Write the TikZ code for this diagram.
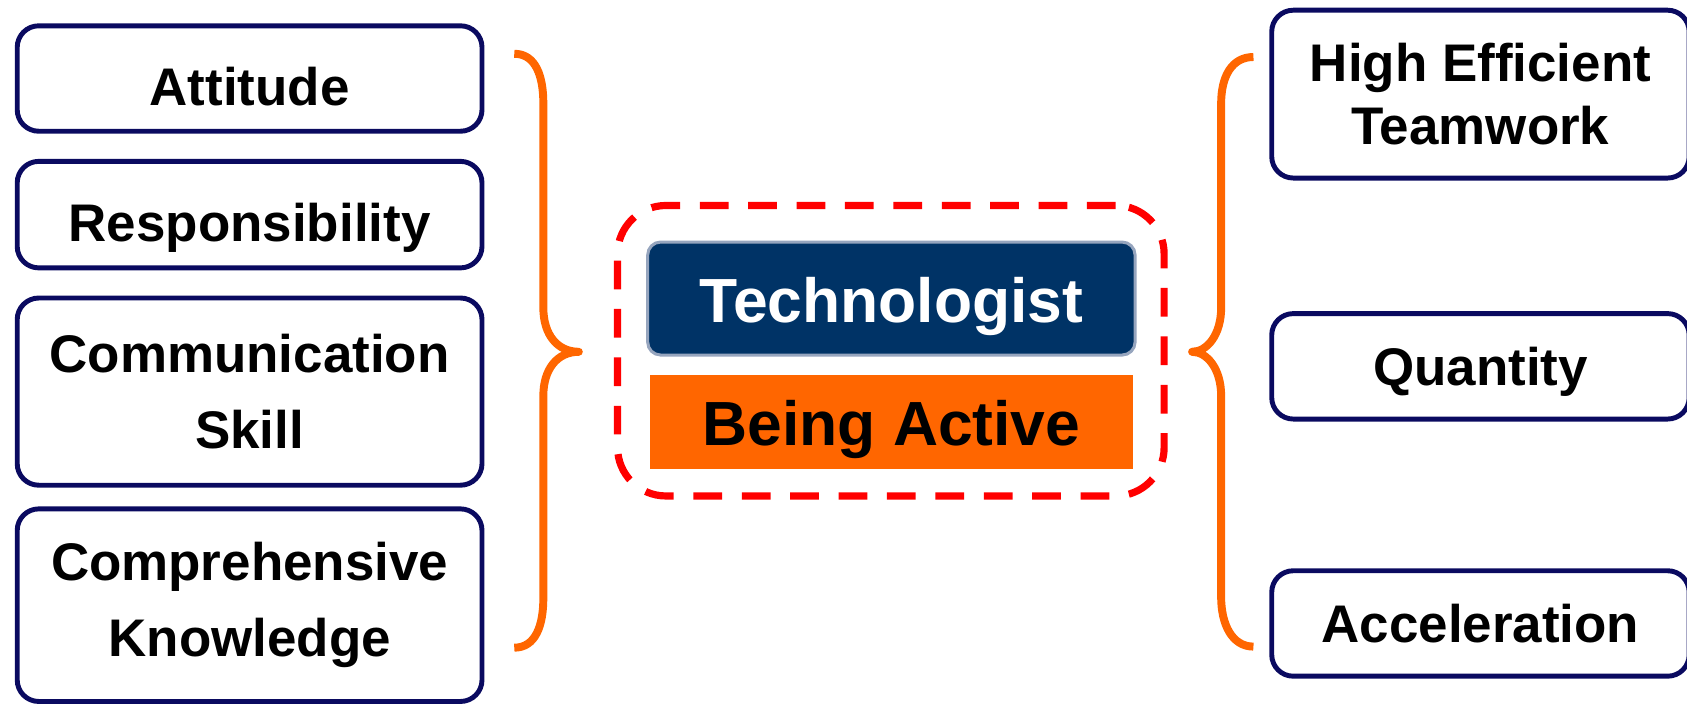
\documentclass[tikz,border=0pt]{standalone}
\usepackage{fontspec}
\setmainfont{Liberation Sans}
\usetikzlibrary{positioning}

\definecolor{boxline}{RGB}{10,10,96}
\definecolor{technoblue}{RGB}{0,51,102}
\definecolor{technoedge}{RGB}{150,165,190}
\definecolor{activeorange}{RGB}{255,102,0}

\begin{document}
\begin{tikzpicture}[
    item/.style={draw=boxline,line width=1.3pt,rounded corners=0.2cm,fill=white,align=center,inner sep=0pt},
    leftitem/.style={item,minimum width=4.32cm,font=\fontsize{14}{20}\selectfont\bfseries},
    rightitem/.style={item,minimum width=3.88cm,font=\fontsize{14}{16.5}\selectfont\bfseries},
    oneline/.style={text height=0.36cm,text depth=0pt},
    lowline/.style={text height=0.5cm,text depth=0pt},
    bigtext/.style={font=\fontsize{16.5}{20}\selectfont\bfseries,text height=0.44cm,text depth=0pt,inner sep=0pt},
    curly/.style={draw=activeorange,line width=2.1pt,line join=round}
  ]
  \useasboundingbox (0,0) rectangle (15.68,6.56);

  % left column
  \node (attitude) [leftitem,lowline,minimum height=0.98cm] at (2.32,5.83) {Attitude};
  \node (responsibility) [leftitem,lowline,minimum height=0.99cm] at (2.32,4.565) {Responsibility};
  \node (communication) [leftitem,minimum height=1.74cm] at (2.32,2.92) {Communication\\Skill};
  \node (knowledge) [leftitem,minimum height=1.79cm] at (2.32,0.935) {Comprehensive\\Knowledge};

  % centre
  \node (frame) [draw=red,line width=1.9pt,dash pattern=on 7.6pt off 5.2pt,rounded corners=0.45cm,minimum width=5.08cm,minimum height=2.70cm] at (8.28,3.30) {};
  \node (techno) [bigtext,fill=technoblue,draw=technoedge,line width=0.8pt,rounded corners=0.12cm,text=white,minimum width=4.53cm,minimum height=1.05cm] at (8.285,3.785) {Technologist};
  \node (active) [bigtext,fill=activeorange,minimum width=4.49cm,minimum height=0.88cm,below=0.16cm of techno] {Being Active};

  % right column
  \node (teamwork) [rightitem,minimum height=1.56cm] at (13.76,5.685) {High Efficient\\Teamwork};
  \node (quantity) [rightitem,oneline,minimum height=0.98cm] at (13.76,3.155) {Quantity};
  \node (acceleration) [rightitem,oneline,minimum height=0.98cm] at (13.76,0.765) {Acceleration};

  % braces
  \coordinate (ltop) at (4.78,6.06);
  \coordinate (ltip) at (5.38,3.29);
  \coordinate (lbot) at (4.78,0.54);
  \draw [curly] (ltop) .. controls (4.98,6.06) and (5.05,5.85) .. (5.05,5.60) -- (5.05,3.70)
    .. controls (5.05,3.45) and (5.18,3.29) .. (ltip)
    .. controls (5.18,3.29) and (5.05,3.13) .. (5.05,2.88) -- (5.05,1.00)
    .. controls (5.05,0.75) and (4.98,0.54) .. (lbot);

  \coordinate (rtop) at (11.65,6.03);
  \coordinate (rtip) at (11.08,3.29);
  \coordinate (rbot) at (11.65,0.55);
  \draw [curly] (rtop) .. controls (11.45,6.03) and (11.35,5.85) .. (11.35,5.60) -- (11.35,3.70)
    .. controls (11.35,3.45) and (11.22,3.29) .. (rtip)
    .. controls (11.22,3.29) and (11.35,3.13) .. (11.35,2.88) -- (11.35,1.01)
    .. controls (11.35,0.76) and (11.45,0.55) .. (rbot);
\end{tikzpicture}
\end{document}
